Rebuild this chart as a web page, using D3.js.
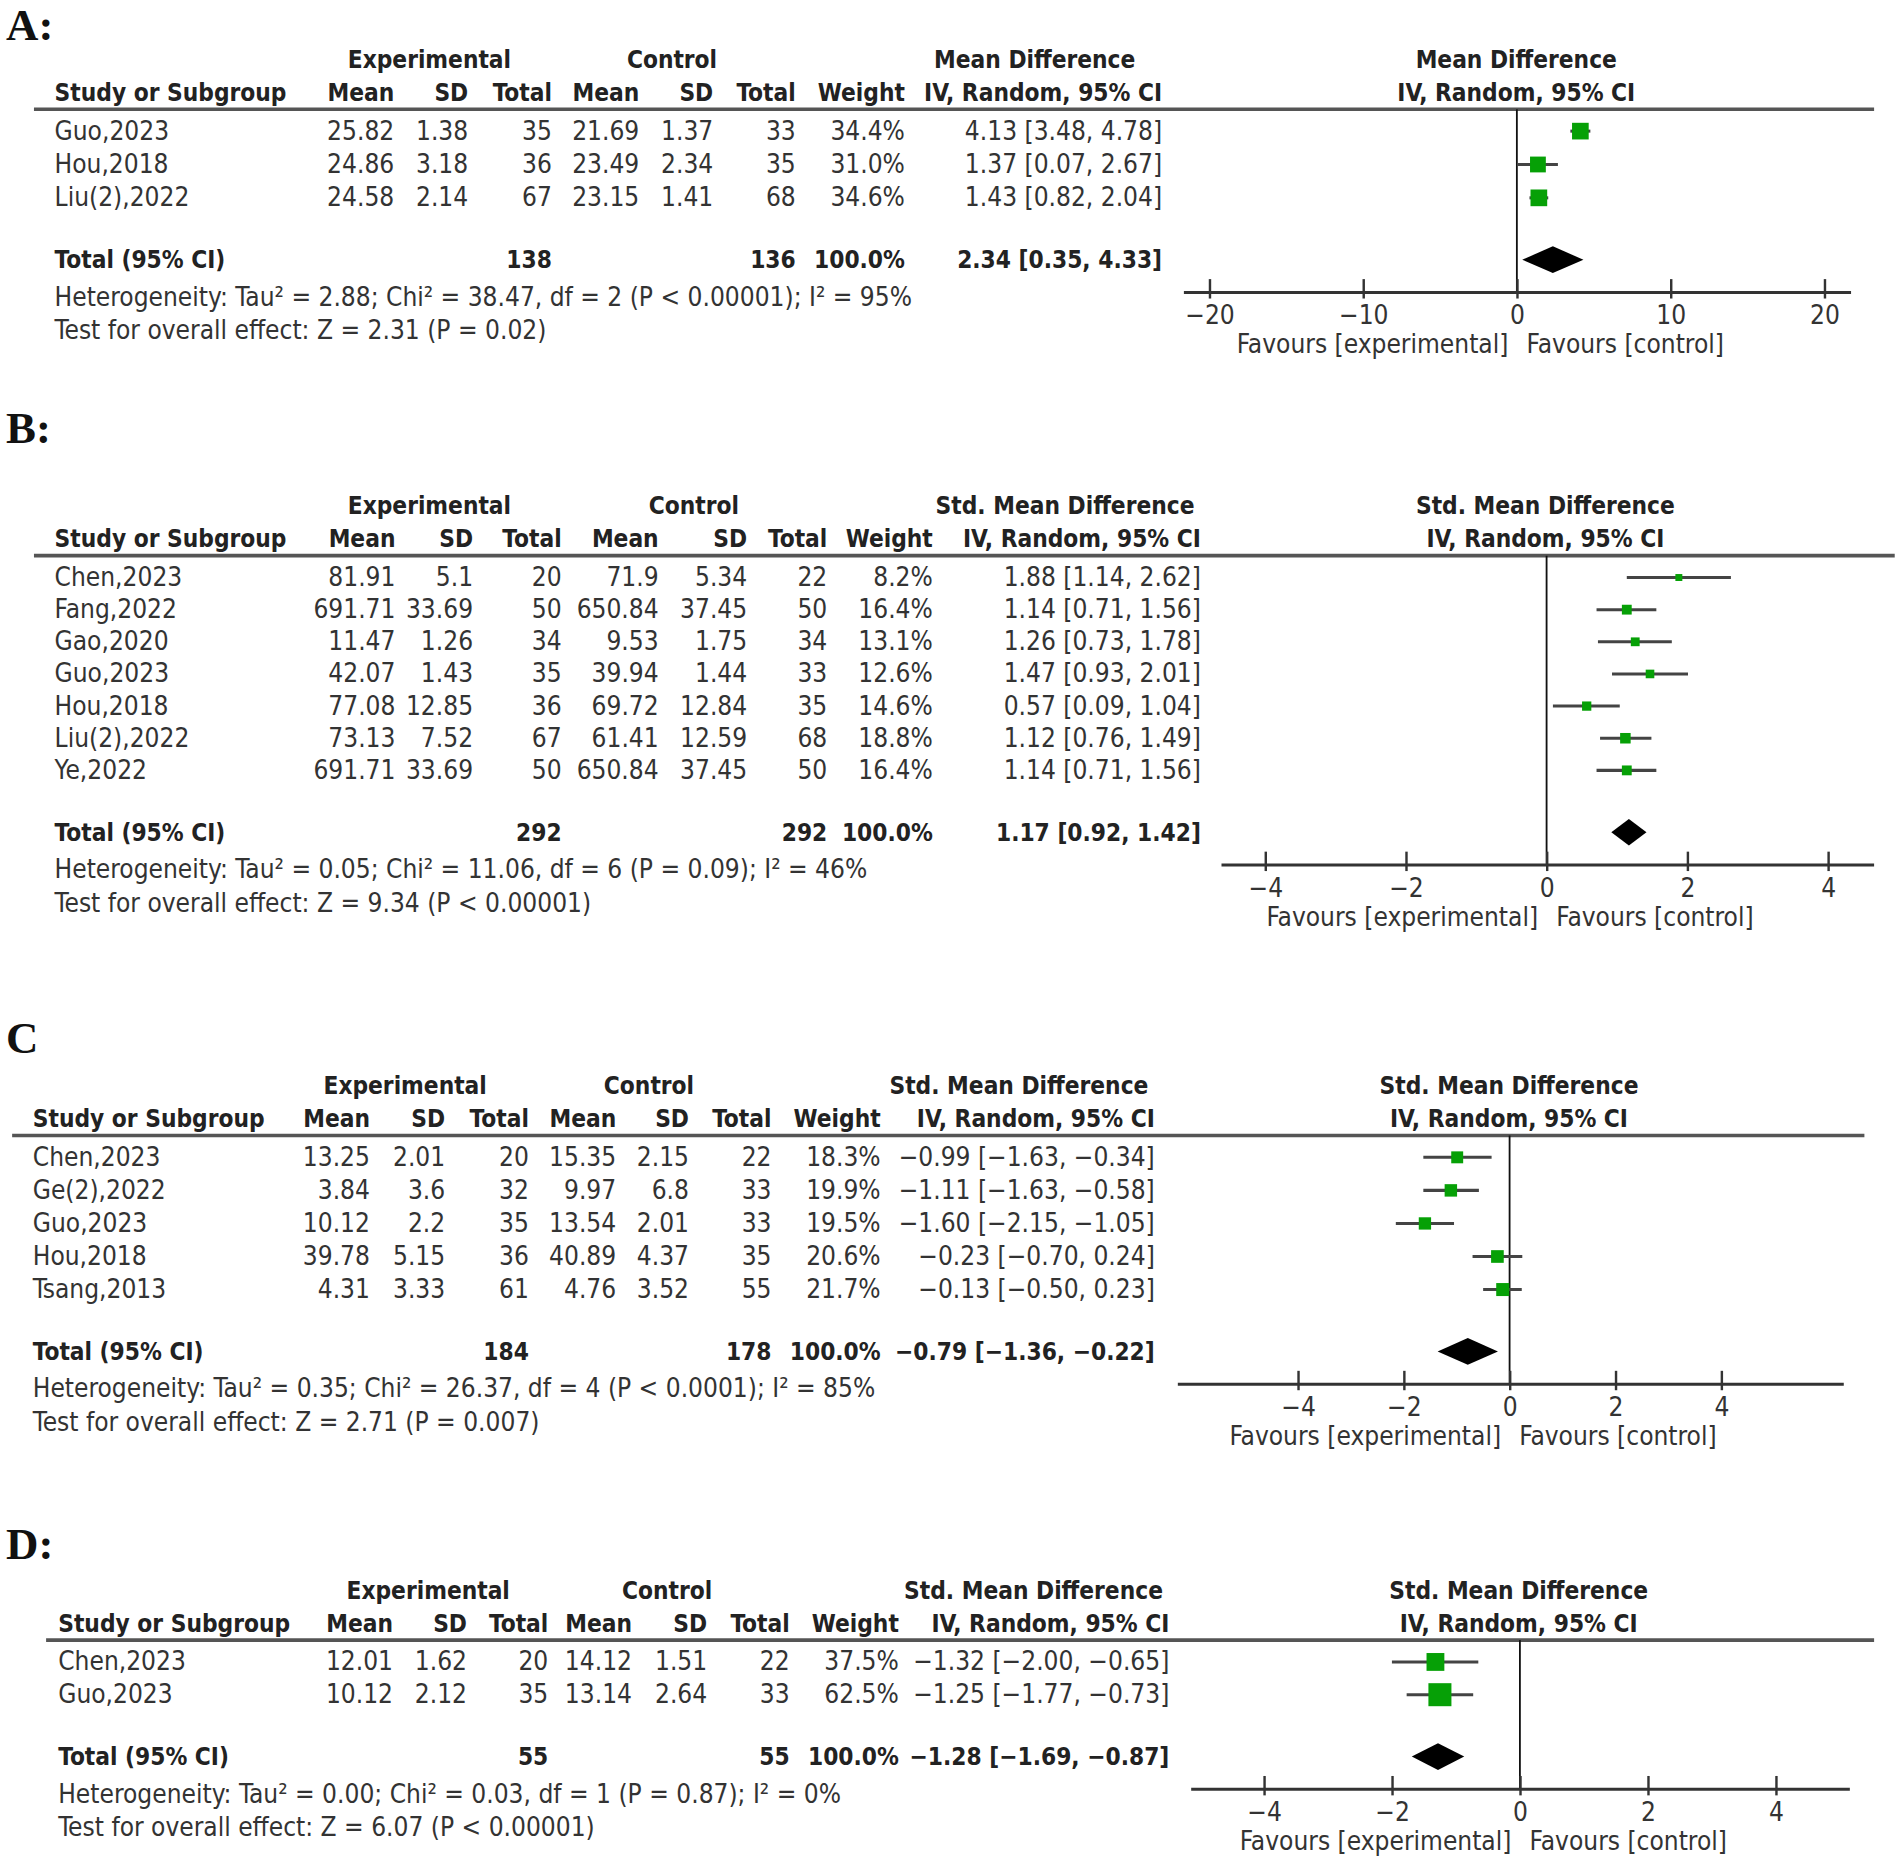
<!DOCTYPE html>
<html>
<head>
<meta charset="utf-8">
<script src="https://cdn.jsdelivr.net/npm/d3@7"></script>
<style>
body { margin: 0; background: #fff; }
text { font-family: "DejaVu Sans Condensed", "DejaVu Sans", sans-serif; font-size: 21.5px; fill: #333; }
text.hd { font-weight: bold; font-size: 20px; fill: #222; }
text.plabel { font-family: "Liberation Serif", serif; font-weight: bold; font-size: 37px; fill: #111; }
</style>
</head>
<body>
<svg id="chart"></svg>
<script>
// ---- A: Mean Difference
var studiesA = ["Guo,2023", "Hou,2018", "Liu(2),2022"]
var expA = [["25.82", "1.38", 35], ["24.86", "3.18", 36], ["24.58", "2.14", 67]]
var ctlA = [["21.69", "1.37", 33], ["23.49", "2.34", 35], ["23.15", "1.41", 68]]
var weightA = [34.4, 31.0, 34.6]
var estA = [4.13, 1.37, 1.43]
var loA = [3.48, 0.07, 0.82]
var hiA = [4.78, 2.67, 2.04]
var totalA = [138, 136, 2.34, 0.35, 4.33]
var statsA = ["Heterogeneity: Tau² = 2.88; Chi² = 38.47, df = 2 (P < 0.00001); I² = 95%",
              "Test for overall effect: Z = 2.31 (P = 0.02)"]
var ticksA = [-20, -10, 0, 10, 20]

// ---- B: Std. Mean Difference
var studiesB = ["Chen,2023", "Fang,2022", "Gao,2020", "Guo,2023", "Hou,2018", "Liu(2),2022", "Ye,2022"]
var expB = [["81.91", "5.1", 20], ["691.71", "33.69", 50], ["11.47", "1.26", 34], ["42.07", "1.43", 35],
            ["77.08", "12.85", 36], ["73.13", "7.52", 67], ["691.71", "33.69", 50]]
var ctlB = [["71.9", "5.34", 22], ["650.84", "37.45", 50], ["9.53", "1.75", 34], ["39.94", "1.44", 33],
            ["69.72", "12.84", 35], ["61.41", "12.59", 68], ["650.84", "37.45", 50]]
var weightB = [8.2, 16.4, 13.1, 12.6, 14.6, 18.8, 16.4]
var estB = [1.88, 1.14, 1.26, 1.47, 0.57, 1.12, 1.14]
var loB = [1.14, 0.71, 0.73, 0.93, 0.09, 0.76, 0.71]
var hiB = [2.62, 1.56, 1.78, 2.01, 1.04, 1.49, 1.56]
var totalB = [292, 292, 1.17, 0.92, 1.42]
var statsB = ["Heterogeneity: Tau² = 0.05; Chi² = 11.06, df = 6 (P = 0.09); I² = 46%",
              "Test for overall effect: Z = 9.34 (P < 0.00001)"]
var ticksB = [-4, -2, 0, 2, 4]

// ---- C: Std. Mean Difference
var studiesC = ["Chen,2023", "Ge(2),2022", "Guo,2023", "Hou,2018", "Tsang,2013"]
var expC = [["13.25", "2.01", 20], ["3.84", "3.6", 32], ["10.12", "2.2", 35], ["39.78", "5.15", 36], ["4.31", "3.33", 61]]
var ctlC = [["15.35", "2.15", 22], ["9.97", "6.8", 33], ["13.54", "2.01", 33], ["40.89", "4.37", 35], ["4.76", "3.52", 55]]
var weightC = [18.3, 19.9, 19.5, 20.6, 21.7]
var estC = [-0.99, -1.11, -1.60, -0.23, -0.13]
var loC = [-1.63, -1.63, -2.15, -0.70, -0.50]
var hiC = [-0.34, -0.58, -1.05, 0.24, 0.23]
var totalC = [184, 178, -0.79, -1.36, -0.22]
var statsC = ["Heterogeneity: Tau² = 0.35; Chi² = 26.37, df = 4 (P < 0.0001); I² = 85%",
              "Test for overall effect: Z = 2.71 (P = 0.007)"]
var ticksC = [-4, -2, 0, 2, 4]

// ---- D: Std. Mean Difference
var studiesD = ["Chen,2023", "Guo,2023"]
var expD = [["12.01", "1.62", 20], ["10.12", "2.12", 35]]
var ctlD = [["14.12", "1.51", 22], ["13.14", "2.64", 33]]
var weightD = [37.5, 62.5]
var estD = [-1.32, -1.25]
var loD = [-2.00, -1.77]
var hiD = [-0.65, -0.73]
var totalD = [55, 55, -1.28, -1.69, -0.87]
var statsD = ["Heterogeneity: Tau² = 0.00; Chi² = 0.03, df = 1 (P = 0.87); I² = 0%",
              "Test for overall effect: Z = 6.07 (P < 0.00001)"]
var ticksD = [-4, -2, 0, 2, 4]

var W = 1568, H = 1534
var svg = d3.select("#chart").attr("width", 1902).attr("height", 1861)
    .attr("viewBox", "0 0 " + W + " " + H)

function num(v) {
    return (v < 0 ? "\u2212" : "") + Math.abs(v).toFixed(2)
}
function ci(e, l, h) {
    return num(e) + " [" + num(l) + ", " + num(h) + "]"
}

function drawPanel(L, studies, exp, ctl, weight, est, lo, hi, total, stats, ticks) {
    var g = svg.append("g")
    g.append("text").attr("class", "plabel").attr("x", 5).attr("y", L.labelY).text(L.label)

    var h1 = L.h1, h2 = h1 + 27, rule = h2 + 7
    var c = L.cols

    // header
    g.append("text").attr("class", "hd").attr("x", L.expC).attr("y", h1).attr("text-anchor", "middle").text("Experimental")
    g.append("text").attr("class", "hd").attr("x", L.ctlC).attr("y", h1).attr("text-anchor", "middle").text("Control")
    g.append("text").attr("class", "hd").attr("x", L.effC).attr("y", h1).attr("text-anchor", "middle").text(L.title)
    g.append("text").attr("class", "hd").attr("x", L.plotC).attr("y", h1).attr("text-anchor", "middle").text(L.title)
    g.append("text").attr("class", "hd").attr("x", L.nameX).attr("y", h2).text("Study or Subgroup")
    var hdr2 = ["Mean", "SD", "Total", "Mean", "SD", "Total", "Weight", "IV, Random, 95% CI"]
    hdr2.forEach(function(t, i) {
        g.append("text").attr("class", "hd").attr("x", c[i]).attr("y", h2).attr("text-anchor", "end").text(t)
    })
    g.append("text").attr("class", "hd").attr("x", L.plotC).attr("y", h2).attr("text-anchor", "middle").text("IV, Random, 95% CI")

    g.append("line").attr("x1", L.ruleX[0]).attr("x2", L.ruleX[1]).attr("y1", rule).attr("y2", rule)
        .attr("stroke", "#555").attr("stroke-width", 3)

    // rows (baselines)
    var first = rule + 25
    var y = d3.scalePoint().domain(studies).range([first, first + (studies.length - 1) * L.step])

    var rows = g.selectAll("g.row").data(studies).enter().append("g").attr("class", "row")
    rows.append("text").attr("x", L.nameX).attr("y", function(d) { return y(d) }).text(function(d) { return d })
    var cells = function(i) {
        return [exp[i][0], exp[i][1], exp[i][2], ctl[i][0], ctl[i][1], ctl[i][2],
                weight[i].toFixed(1) + "%", ci(est[i], lo[i], hi[i])]
    }
    rows.each(function(d, i) {
        var r = d3.select(this)
        r.selectAll("text.cell").data(cells(i)).enter().append("text").attr("class", "cell")
            .attr("x", function(v, j) { return c[j] }).attr("y", y(d))
            .attr("text-anchor", "end").text(function(v) { return v })
    })

    // total row
    var yT = y(studies[studies.length - 1]) + 51
    g.append("text").attr("class", "hd").attr("x", L.nameX).attr("y", yT).text("Total (95% CI)")
    g.append("text").attr("class", "hd").attr("x", c[2]).attr("y", yT).attr("text-anchor", "end").text(total[0])
    g.append("text").attr("class", "hd").attr("x", c[5]).attr("y", yT).attr("text-anchor", "end").text(total[1])
    g.append("text").attr("class", "hd").attr("x", c[6]).attr("y", yT).attr("text-anchor", "end").text("100.0%")
    g.append("text").attr("class", "hd").attr("x", c[7]).attr("y", yT).attr("text-anchor", "end").text(ci(total[2], total[3], total[4]))

    g.append("text").attr("x", L.nameX).attr("y", yT + 31).text(stats[0])
    g.append("text").attr("x", L.nameX).attr("y", yT + 58.5).text(stats[1])

    // forest plot
    var x = d3.scaleLinear().domain([ticks[0], ticks[ticks.length - 1]]).range(L.tickRange)
    var cy = yT - 7
    var axisY = cy + 27

    g.append("line").attr("x1", x(0)).attr("x2", x(0)).attr("y1", rule).attr("y2", axisY)
        .attr("stroke", "#111").attr("stroke-width", 1.5)

    g.selectAll("line.ci").data(studies).enter().append("line").attr("class", "ci")
        .attr("x1", function(d, i) { return x(lo[i]) }).attr("x2", function(d, i) { return x(hi[i]) })
        .attr("y1", function(d) { return y(d) - 7 }).attr("y2", function(d) { return y(d) - 7 })
        .attr("stroke", "#444").attr("stroke-width", 2.5)

    g.selectAll("rect.box").data(studies).enter().append("rect").attr("class", "box")
        .attr("x", function(d, i) { return x(est[i]) - L.box * Math.sqrt(weight[i]) / 2 })
        .attr("y", function(d, i) { return y(d) - 7 - L.box * Math.sqrt(weight[i]) / 2 })
        .attr("width", function(d, i) { return L.box * Math.sqrt(weight[i]) })
        .attr("height", function(d, i) { return L.box * Math.sqrt(weight[i]) })
        .attr("fill", "#06a006")

    g.append("path")
        .attr("d", "M" + x(total[3]) + "," + cy + "L" + x(total[2]) + "," + (cy - 11) +
                   "L" + x(total[4]) + "," + cy + "L" + x(total[2]) + "," + (cy + 11) + "Z")
        .attr("fill", "#000")

    // axis
    var axis = d3.axisBottom(x).tickValues(ticks).tickSizeOuter(0)
        .tickFormat(function(d) { return d < 0 ? "\u2212" + (-d) : d })
    var ax = g.append("g").attr("transform", "translate(0," + axisY + ")").call(axis)
    ax.select(".domain").remove()
    ax.selectAll(".tick line").attr("y1", -11).attr("y2", 5).attr("stroke", "#333").attr("stroke-width", 2)
    ax.selectAll(".tick text").attr("y", 26).attr("dy", null)
        .style("font-family", "\"DejaVu Sans Condensed\", \"DejaVu Sans\", sans-serif")
        .style("font-size", "21.5px").attr("fill", "#333")
    g.append("line").attr("x1", L.axisX[0]).attr("x2", L.axisX[1]).attr("y1", axisY).attr("y2", axisY)
        .attr("stroke", "#333").attr("stroke-width", 2.5)

    g.append("text").attr("x", x(0) - 7).attr("y", axisY + 50).attr("text-anchor", "end").text("Favours [experimental]")
    g.append("text").attr("x", x(0) + 8).attr("y", axisY + 50).text("Favours [control]")
}

drawPanel({label: "A:", labelY: 33, h1: 56, nameX: 45, step: 27.5, box: 2.34,
           cols: [325, 386, 455, 527, 588, 656, 746, 958], expC: 354, ctlC: 554,
           title: "Mean Difference", effC: 853, plotC: 1250, ruleX: [28, 1545],
           tickRange: [997, 1504], axisX: [976, 1526]},
          studiesA, expA, ctlA, weightA, estA, loA, hiA, totalA, statsA, ticksA)

drawPanel({label: "B:", labelY: 365, h1: 424, nameX: 45, step: 26.5, box: 2.0,
           cols: [326, 390, 463, 543, 616, 682, 769, 990], expC: 354, ctlC: 572,
           title: "Std. Mean Difference", effC: 878, plotC: 1274, ruleX: [28, 1562],
           tickRange: [1043, 1507], axisX: [1007, 1545]},
          studiesB, expB, ctlB, weightB, estB, loB, hiB, totalB, statsB, ticksB)

drawPanel({label: "C", labelY: 868, h1: 902, nameX: 27, step: 27.25, box: 2.3,
           cols: [305, 367, 436, 508, 568, 636, 726, 952], expC: 334, ctlC: 535,
           title: "Std. Mean Difference", effC: 840, plotC: 1244, ruleX: [10, 1537],
           tickRange: [1070, 1419], axisX: [971, 1520]},
          studiesC, expC, ctlC, weightC, estC, loC, hiC, totalC, statsC, ticksC)

drawPanel({label: "D:", labelY: 1285, h1: 1318, nameX: 48, step: 27, box: 2.4,
           cols: [324, 385, 452, 521, 583, 651, 741, 964], expC: 353, ctlC: 550,
           title: "Std. Mean Difference", effC: 852, plotC: 1252, ruleX: [38, 1545],
           tickRange: [1042, 1464], axisX: [982, 1525]},
          studiesD, expD, ctlD, weightD, estD, loD, hiD, totalD, statsD, ticksD)
</script>
</body>
</html>
